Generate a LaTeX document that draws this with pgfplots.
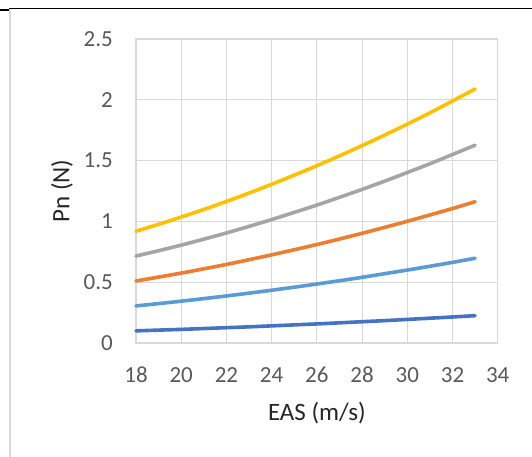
\documentclass[border=0pt]{standalone}
\usepackage{pgfplots}
\pgfplotsset{compat=1.18}
\usepackage{fontspec}
\setmainfont{Carlito}
\definecolor{c1}{HTML}{4472C4}
\definecolor{c2}{HTML}{5B9BD5}
\definecolor{c3}{HTML}{ED7D31}
\definecolor{c4}{HTML}{A5A5A5}
\definecolor{c5}{HTML}{FFC000}
\definecolor{gridc}{HTML}{D9D9D9}
\definecolor{tickc}{HTML}{595959}
\definecolor{labc}{HTML}{262626}
\begin{document}
\begin{tikzpicture}[x=1bp,y=1bp]
\useasboundingbox (0,0) rectangle (532,-457);
\draw[gridc, line width=1.2bp] (10,-9) -- (10,-457);
\draw[black, line width=1.8bp] (9,-8.5) -- (532,-8.5);
\draw[black, line width=1.6bp] (0,-10) -- (9,-10);
\begin{axis}[
  at={(136bp,-343bp)}, anchor=south west,
  scale only axis, width=361.7bp, height=304bp,
  xmin=18, xmax=34, ymin=0, ymax=2.5,
  xtick={18,20,...,34}, ytick={0,0.5,1,1.5,2,2.5},
  yticklabels={0,0.5,1,1.5,2,2.5},
  grid=major,
  major grid style={gridc, line width=1.1bp},
  axis line style={gridc, line width=1.1bp},
  major tick length=0pt,
  /pgf/number format/assume math mode=true,
  ticklabel style={font=\fontsize{23bp}{27bp}\selectfont, text=tickc, inner sep=0pt},
  xticklabel style={anchor=center, yshift=-32bp},
  yticklabel style={anchor=east, xshift=-23bp},
  xlabel={EAS (m/s)}, ylabel={Pn (N)},
  label style={font=\fontsize{25bp}{29bp}\selectfont, text=labc},
  xlabel style={at={(axis description cs:0.5,-0.2303)}, anchor=center},
  ylabel style={at={(axis description cs:-0.2046,0.5)}, anchor=center, rotate=0},
  every axis plot/.append style={line width=3.6bp, line cap=round, line join=round, smooth, no marks},
  clip=false,
]
\addplot[c1] coordinates {(18,0.100)(19,0.106)(20,0.112)(21,0.119)(22,0.126)(23,0.133)(24,0.141)(25,0.149)(26,0.157)(27,0.166)(28,0.175)(29,0.184)(30,0.194)(31,0.204)(32,0.214)(33,0.225)};
\addplot[c2] coordinates {(18,0.305)(19,0.324)(20,0.344)(21,0.365)(22,0.387)(23,0.410)(24,0.434)(25,0.459)(26,0.485)(27,0.512)(28,0.540)(29,0.570)(30,0.600)(31,0.631)(32,0.663)(33,0.697)};
\addplot[c3] coordinates {(18,0.510)(19,0.542)(20,0.575)(21,0.610)(22,0.646)(23,0.685)(24,0.725)(25,0.767)(26,0.810)(27,0.855)(28,0.902)(29,0.951)(30,1.001)(31,1.053)(32,1.106)(33,1.162)};
\addplot[c4] coordinates {(18,0.715)(19,0.759)(20,0.805)(21,0.854)(22,0.905)(23,0.959)(24,1.015)(25,1.074)(26,1.134)(27,1.198)(28,1.263)(29,1.331)(30,1.402)(31,1.474)(32,1.550)(33,1.627)};
\addplot[c5] coordinates {(18,0.919)(19,0.976)(20,1.036)(21,1.098)(22,1.164)(23,1.233)(24,1.305)(25,1.380)(26,1.458)(27,1.539)(28,1.623)(29,1.710)(30,1.800)(31,1.893)(32,1.990)(33,2.089)};
\end{axis}
\end{tikzpicture}
\end{document}
